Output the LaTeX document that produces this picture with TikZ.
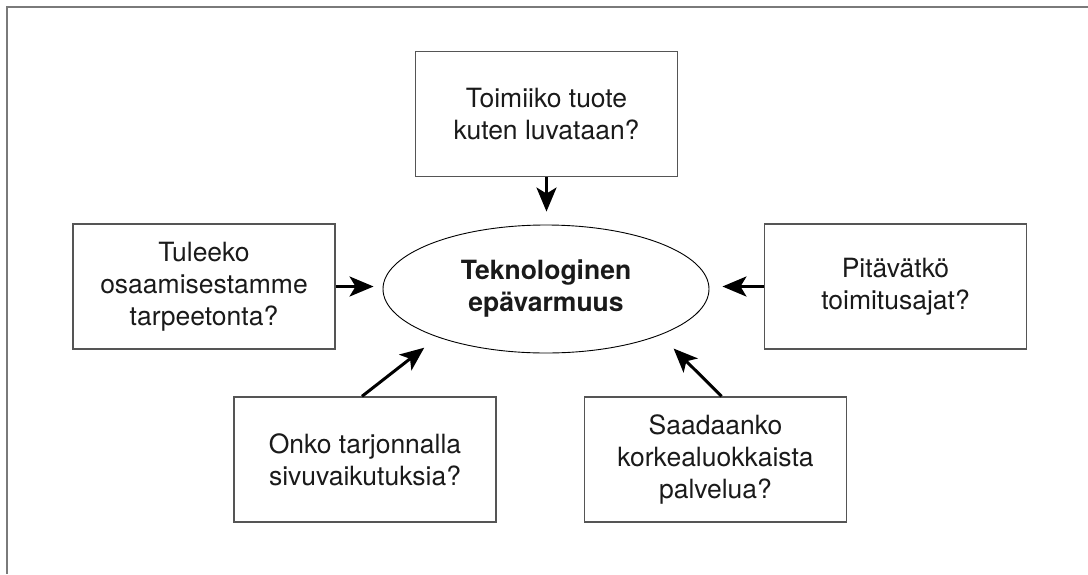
\documentclass[tikz,border=0pt]{standalone}
\usepackage{fontspec}
\setmainfont{TeX Gyre Heros}
\usetikzlibrary{arrows.meta,shapes.geometric}

\definecolor{framegray}{HTML}{7A7A7A}
\definecolor{boxgray}{HTML}{555555}
\definecolor{inkc}{HTML}{1A1A1A}

\tikzset{
  question/.style={draw=boxgray, line width=1.4pt, rectangle,
    minimum width=262pt, minimum height=125pt, inner sep=0pt,
    align=center, text=inkc, font=\fontsize{26.5}{32}\selectfont},
  core/.style={draw=black, line width=0.9pt, ellipse,
    minimum width=326pt, minimum height=128pt, inner sep=0pt,
    align=center, text=inkc, font=\bfseries\fontsize{26.5}{32}\selectfont},
  influence/.style={line width=3pt, black,
    -{Stealth[length=24pt, width=20pt, inset=6pt]}},
  edge/.style={framegray, line width=2pt}
}

\begin{document}
\begin{tikzpicture}[x=1pt, y=-1pt]
  \useasboundingbox (0,0) rectangle (1088,574);

  % open frame: top and left edges only
  \coordinate (fc) at (7,6.5);
  \coordinate (ftr) at (1088,6.5);
  \coordinate (fbl) at (7,574);
  \draw[edge] (ftr) -- (fc) -- (fbl);

  % central concept
  \node[core] (ell) at (546,289) {Teknologinen\\epävarmuus};

  % surrounding questions
  \node[question] (tb) at (546.5,114) {Toimiiko tuote\\kuten luvataan?};
  \node[question] (lb) at (204,286.5) {Tuleeko\\osaamisestamme\\tarpeetonta?};
  \node[question] (rb) at (895.5,286.5) {Pitävätkö\\toimitusajat?};
  \node[question] (bl) at (365,459.5) {Onko tarjonnalla\\sivuvaikutuksia?};
  \node[question] (br) at (715.5,459.5) {Saadaanko\\korkealuokkaista\\palvelua?};

  % arrows pointing into the concept
  \draw[influence, shorten >=13pt] (tb.south) -- (tb.south |- ell.north);
  \draw[influence, shorten >=9pt] (lb.east) -- (lb.east -| ell.west);
  \draw[influence, shorten >=13pt] (rb.west) -- (rb.west -| ell.east);
  \draw[influence, shorten >=17pt] ([xshift=-3pt]bl.north) -- (ell.204);
  \draw[influence, shorten >=19pt] ([xshift=6pt]br.north) -- (ell.338.5);
\end{tikzpicture}
\end{document}
